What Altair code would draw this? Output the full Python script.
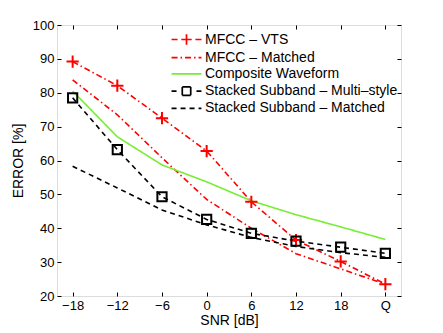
import altair as alt
import pandas as pd

x_labels = ["\u221218", "\u221212", "\u22126", "0", "6", "12", "18", "Q"]
x_index = [0, 1, 2, 3, 4, 5, 6, 7]

series_names = [
    "MFCC \u2013 VTS",
    "MFCC \u2013 Matched",
    "Composite Waveform",
    "Stacked Subband \u2013 Multi\u2013style",
    "Stacked Subband \u2013 Matched",
]

mfcc_vts = [89.2, 82.1, 72.5, 62.8, 47.8, 36.5, 30.2, 23.5]
mfcc_matched = [83.8, 73.5, 60.8, 48.5, 40.0, 32.5, 28.0, 23.5]
composite = [80.5, 67.0, 58.7, 53.7, 48.1, 44.0, 40.4, 36.7]
ss_multi = [78.5, 63.2, 49.3, 42.6, 38.5, 36.2, 34.4, 32.6]
ss_matched = [58.3, 51.9, 45.4, 41.0, 37.3, 34.6, 32.8, 31.4]

all_values = [mfcc_vts, mfcc_matched, composite, ss_multi, ss_matched]

colors = ["#ff0000", "#ff0000", "#77ee33", "#000000", "#000000"]
dashes = [[6, 3, 1.5, 3], [6, 3, 1.5, 3], [1, 0], [5, 4], [5, 4]]
widths = [1.6, 1.6, 1.1, 1.8, 1.8]

# legend glyphs: line segment (+ marker in the middle), each arm a short sub-path
plus_glyph = "M0,0V-0.8M0,0V0.8M0,0H-0.8M0,0H0.8"
square_glyph = ("M-0.65,-0.65H0M0.65,-0.65H0M0.65,-0.65V0M0.65,0.65V0"
                "M0.65,0.65H0M-0.65,0.65H0M-0.65,0.65V0M-0.65,-0.65V0")
legend_glyphs = [
    "M-2.3,0H-1.0M2.3,0H1.0" + plus_glyph,
    "M-2.3,0H2.3",
    "M-2.3,0H2.3",
    "M-2.3,0H-1.1M2.3,0H1.1" + square_glyph,
    "M-2.3,0H2.3",
]

rows = []
for name, vals in zip(series_names, all_values):
    for xi, v in zip(x_index, vals):
        rows.append({"xi": xi, "val": v, "series": name})
df = pd.DataFrame(rows)

FONT = "Liberation Sans"
FS = 13
FT = 14

label_expr = "[" + ",".join("'" + l + "'" for l in x_labels) + "][datum.value]"

xscale = alt.Scale(domain=[-0.35, 7.35], nice=False, zero=False)
yscale = alt.Scale(domain=[20, 100], nice=False, zero=False)
color_scale = alt.Scale(domain=series_names, range=colors)
dash_scale = alt.Scale(domain=series_names, range=dashes)

axis_common = dict(domain=False, grid=False, tickColor="black", tickSize=4, offset=-4,
                   labelColor="black", labelFont=FONT, labelFontSize=FS,
                   titleFont=FONT, titleFontSize=FT, titleFontWeight="normal",
                   titleColor="black")

x_bottom = alt.X("xi:Q", scale=xscale,
                 axis=alt.Axis(values=x_index, labelExpr=label_expr, title="SNR [dB]",
                               labelPadding=3, titlePadding=1, orient="bottom", **axis_common))
y_left = alt.Y("val:Q", scale=yscale,
               axis=alt.Axis(values=list(range(20, 101, 10)), title="ERROR [%]",
                             labelPadding=3, titlePadding=7, orient="left", **axis_common))

lines = alt.Chart(df).mark_line().encode(
    x=x_bottom,
    y=y_left,
    color=alt.Color("series:N", scale=color_scale, legend=None),
    strokeDash=alt.StrokeDash("series:N", scale=dash_scale, legend=None),
    strokeWidth=alt.StrokeWidth("series:N", scale=alt.Scale(domain=series_names, range=widths), legend=None),
)

vts_points = alt.Chart(df).transform_filter(
    alt.datum.series == series_names[0]
).mark_point(shape="M-1,0H1M0,-1V1", size=150, strokeWidth=2, color="#ff0000", opacity=1).encode(
    x=alt.X("xi:Q", scale=xscale, axis=None),
    y=alt.Y("val:Q", scale=yscale, axis=None),
)

multi_points = alt.Chart(df).transform_filter(
    alt.datum.series == series_names[3]
).mark_point(shape="square", size=85, strokeWidth=2, color="#000000", opacity=1, filled=False).encode(
    x=alt.X("xi:Q", scale=xscale, axis=None),
    y=alt.Y("val:Q", scale=yscale, axis=None),
)

leg = alt.Legend(orient="none", legendX=114, legendY=7, title=None,
                 symbolSize=169, symbolStrokeWidth=1.7, symbolOffset=8,
                 symbolFillColor="transparent",
                 labelFont=FONT, labelFontSize=FT, labelColor="black",
                 rowPadding=1.2, padding=0, labelOffset=11, labelLimit=400)

legend_layer = alt.Chart(df).transform_filter("false").mark_point(filled=False, opacity=1).encode(
    x=alt.X("xi:Q", scale=xscale, axis=None),
    y=alt.Y("val:Q", scale=yscale, axis=None),
    color=alt.Color("series:N", scale=color_scale, legend=leg),
    strokeDash=alt.StrokeDash("series:N", scale=dash_scale, legend=leg),
    shape=alt.Shape("series:N", scale=alt.Scale(domain=series_names, range=legend_glyphs), legend=leg),
)

tick_axis = dict(domain=False, grid=False, tickColor="black", tickSize=4, offset=-4,
                 labels=False, title=None)
frame_ticks = alt.Chart(df).mark_point(opacity=0).encode(
    x=alt.X("xi:Q", scale=xscale, axis=alt.Axis(values=x_index, orient="top", **tick_axis)),
    y=alt.Y("val:Q", scale=yscale, axis=alt.Axis(values=list(range(20, 101, 10)), orient="right", **tick_axis)),
)

chart = alt.layer(lines, vts_points, multi_points, legend_layer, frame_ticks).resolve_axis(
    x="independent", y="independent"
).resolve_legend(
    color="independent", strokeDash="independent", shape="independent", strokeWidth="independent"
).properties(
    width=344, height=271,
    autosize=alt.AutoSizeParams(type="none"),
    padding={"left": 49, "top": 17, "right": 30, "bottom": 36},
).configure_view(stroke="black", strokeWidth=1).configure(background="white")

chart.save("out.html", embed_options={"renderer": "svg", "actions": False})
